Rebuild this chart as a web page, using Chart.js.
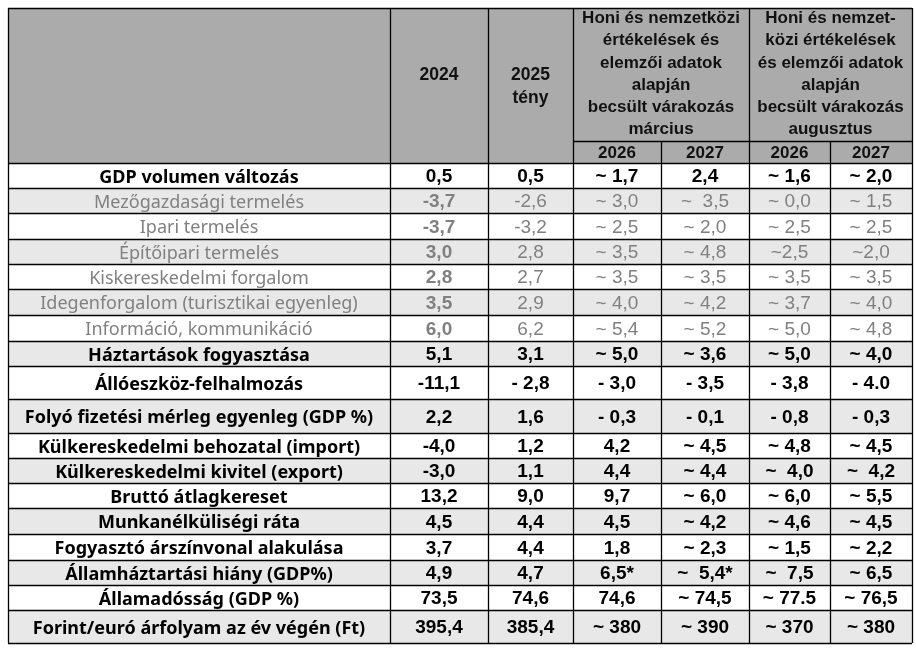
<!DOCTYPE html>
<html><head><meta charset="utf-8">
<script src="https://cdn.jsdelivr.net/npm/chart.js@4.4.1/dist/chart.umd.min.js"></script>
<style>html,body{margin:0;padding:0;background:#fff}#wrap{width:916px;height:649px}</style>
</head><body><div id="wrap"><canvas id="c"></canvas></div>
<script>
// ---------- DATA ----------
const rowLabels = [
  'GDP volumen változás',
  'Mezőgazdasági termelés',
  'Ipari termelés',
  'Építőipari termelés',
  'Kiskereskedelmi forgalom',
  'Idegenforgalom (turisztikai egyenleg)',
  'Információ, kommunikáció',
  'Háztartások fogyasztása',
  'Állóeszköz-felhalmozás',
  'Folyó fizetési mérleg egyenleg (GDP %)',
  'Külkereskedelmi behozatal (import)',
  'Külkereskedelmi kivitel (export)',
  'Bruttó átlagkereset',
  'Munkanélküliségi ráta',
  'Fogyasztó árszínvonal alakulása',
  'Államháztartási hiány (GDP%)',
  'Államadósság (GDP %)',
  'Forint/euró árfolyam az év végén (Ft)'
];
const v2024   = ['0,5','-3,7','-3,7','3,0','2,8','3,5','6,0','5,1','-11,1','2,2','-4,0','-3,0','13,2','4,5','3,7','4,9','73,5','395,4'];
const v2025   = ['0,5','-2,6','-3,2','2,8','2,7','2,9','6,2','3,1','- 2,8','1,6','1,2','1,1','9,0','4,4','4,4','4,7','74,6','385,4'];
const mar2026 = ['~ 1,7','~ 3,0','~ 2,5','~ 3,5','~ 3,5','~ 4,0','~ 5,4','~ 5,0','- 3,0','- 0,3','4,2','4,4','9,7','4,5','1,8','6,5*','74,6','~ 380'];
const mar2027 = ['2,4','~  3,5','~ 2,0','~ 4,8','~ 3,5','~ 4,2','~ 5,2','~ 3,6','- 3,5','- 0,1','~ 4,5','~ 4,4','~ 6,0','~ 4,2','~ 2,3','~  5,4*','~ 74,5','~ 390'];
const aug2026 = ['~ 1,6','~ 0,0','~ 2,5','~2,5','~ 3,5','~ 3,7','~ 5,0','~ 5,0','- 3,8','- 0,8','~ 4,8','~  4,0','~ 6,0','~ 4,6','~ 1,5','~  7,5','~ 77.5','~ 370'];
const aug2027 = ['~ 2,0','~ 1,5','~ 2,5','~2,0','~ 3,5','~ 4,0','~ 4,8','~ 4,0','- 4.0','- 0,3','~ 4,5','~  4,2','~ 5,5','~ 4,5','~ 2,2','~ 6,5','~ 76,5','~ 380'];
const yearHeaders = [['2024'], ['2025', 'tény']];
const groupTitles = [
  ['Honi és nemzetközi', 'értékelések és', 'elemzői adatok', 'alapján', 'becsült várakozás', 'március'],
  ['Honi és nemzet-', 'közi értékelések', 'és elemzői adatok', 'alapján', 'becsült várakozás', 'augusztus']
];
const subYears = ['2026', '2027', '2026', '2027'];
// rows shown in grey (sector detail rows)
const greyRows = [1, 2, 3, 4, 5, 6];

// ---------- LAYOUT ----------
const colWidths = [382, 98, 85, 88, 88, 81, 82];
const headerH = 133, subHeadH = 22;
const rowHeights = [25,25,26,25,25,26,26,25,33,34,25,25,25,26,26,25,25,33];
const totalW = colWidths.reduce((a, b) => a + b, 0);
const totalH = headerH + subHeadH + rowHeights.reduce((a, b) => a + b, 0);
const colEdges = [0]; colWidths.forEach(w => colEdges.push(colEdges[colEdges.length - 1] + w));
const rowEdges = [headerH + subHeadH]; rowHeights.forEach(h => rowEdges.push(rowEdges[rowEdges.length - 1] + h));

const valueCols = [v2024, v2025, mar2026, mar2027, aug2026, aug2027];
const NUM = '"Liberation Sans", Arial, sans-serif';
const LBL = '"Noto Sans", sans-serif';

const tablePlugin = {
  id: 'table',
  afterDraw(chart) {
    const ctx = chart.ctx, xs = chart.scales.x, ys = chart.scales.y;
    const X = u => xs.getPixelForValue(u), Y = u => ys.getPixelForValue(u);
    ctx.save();
    // header background
    ctx.fillStyle = '#ABABAB';
    ctx.fillRect(X(0), Y(0), X(totalW) - X(0), Y(headerH + subHeadH) - Y(0));
    // row backgrounds
    rowHeights.forEach((h, i) => {
      ctx.fillStyle = i % 2 === 1 ? '#E8E8E8' : '#FFFFFF';
      ctx.fillRect(X(0), Y(rowEdges[i]), X(totalW) - X(0), Y(rowEdges[i + 1]) - Y(rowEdges[i]));
    });
    ctx.textAlign = 'center'; ctx.textBaseline = 'middle';
    // header texts
    ctx.fillStyle = '#111';
    ctx.font = 'bold 17.5px ' + NUM;
    yearHeaders.forEach((lines, j) => {
      const cx = X((colEdges[j + 1] + colEdges[j + 2]) / 2);
      lines.forEach((t, k) => ctx.fillText(t, cx, Y(67 + k * 23)));
    });
    ctx.font = 'bold 17px ' + NUM;
    groupTitles.forEach((lines, g) => {
      const cx = X((colEdges[3 + g * 2] + colEdges[5 + g * 2]) / 2);
      lines.forEach((t, k) => ctx.fillText(t, cx, Y(10.5 + k * 22.2)));
    });
    subYears.forEach((t, j) => {
      const cx = X((colEdges[3 + j] + colEdges[4 + j]) / 2);
      ctx.fillText(t, cx, Y(headerH + subHeadH / 2 + 1));
    });
    // body
    rowLabels.forEach((lab, i) => {
      const grey = greyRows.includes(i);
      const cy = Y((rowEdges[i] + rowEdges[i + 1]) / 2);
      ctx.fillStyle = grey ? '#808080' : '#000';
      ctx.font = (grey ? '' : 'bold ') + '18px ' + LBL;
      ctx.fillText(lab, X(colWidths[0] / 2), cy + 2);
      valueCols.forEach((col, j) => {
        const cx = X((colEdges[j + 1] + colEdges[j + 2]) / 2);
        ctx.font = ((!grey || j === 0) ? 'bold ' : '') + '19px ' + NUM;
        ctx.fillText(col[i], cx, cy + 1.5);
      });
    });
    // grid lines
    ctx.strokeStyle = '#000'; ctx.lineWidth = 1.3;
    const hline = (u, a, b) => { ctx.beginPath(); ctx.moveTo(X(a), Math.round(Y(u)) + 0.5); ctx.lineTo(X(b), Math.round(Y(u)) + 0.5); ctx.stroke(); };
    const vline = (u, a, b) => { ctx.beginPath(); ctx.moveTo(Math.round(X(u)) + 0.5, Y(a)); ctx.lineTo(Math.round(X(u)) + 0.5, Y(b)); ctx.stroke(); };
    rowEdges.forEach(r => hline(r, 0, totalW));
    hline(0, 0, totalW);
    hline(headerH, colEdges[3], totalW);
    colEdges.forEach((c, j) => {
      if (j === 4 || j === 6) vline(c, headerH, totalH);
      else vline(c, 0, totalH);
    });
    ctx.restore();
  }
};

new Chart(document.getElementById('c'), {
  type: 'scatter',
  data: { datasets: [{ data: [], pointRadius: 0 }] },
  options: {
    responsive: true, maintainAspectRatio: false, animation: false,
    layout: { padding: { left: 8, top: 8, right: 4, bottom: 6 } },
    plugins: { legend: { display: false }, tooltip: { enabled: false } },
    scales: {
      x: { type: 'linear', min: 0, max: totalW, display: false },
      y: { type: 'linear', min: 0, max: totalH, reverse: true, display: false }
    }
  },
  plugins: [tablePlugin]
});
</script></body></html>
